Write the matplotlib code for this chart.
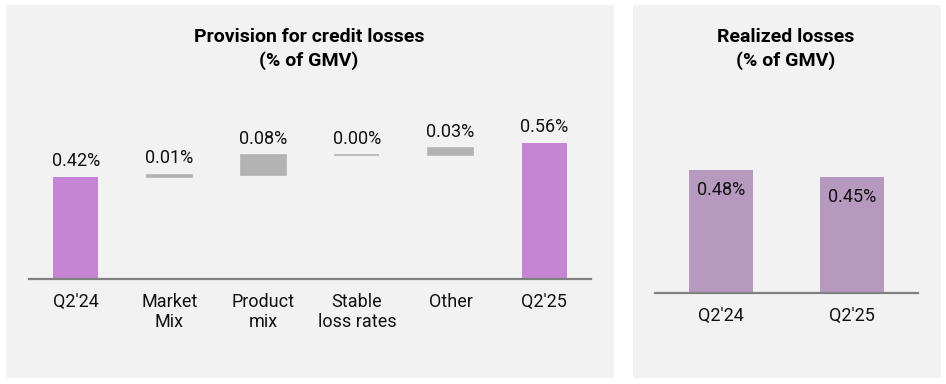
import matplotlib
matplotlib.use("Agg")
import matplotlib.pyplot as plt
from matplotlib.patches import Rectangle

# ---- data ----
wf_categories = ["Q2'24", "Market\nMix", "Product\nmix", "Stable\nloss rates", "Other", "Q2'25"]
wf_values = [0.42, 0.01, 0.08, 0.00, 0.03, 0.56]
wf_is_total = [True, False, False, False, False, True]

rl_categories = ["Q2'24", "Q2'25"]
rl_values = [0.48, 0.45]

title_left = ["Provision for credit losses", "(% of GMV)"]
title_right = ["Realized losses", "(% of GMV)"]

# ---- style ----
plt.rcParams['font.family'] = ['Roboto', 'DejaVu Sans']
W, H = 946, 384
fig = plt.figure(figsize=(W / 100, H / 100), dpi=100)
fig.patch.set_facecolor("white")

PANEL = "#f2f2f2"
PURPLE = "#c585d4"
GRAY = "#b3b3b3"
MAUVE = "#b798be"
AXIS = "#808080"
TXT = "#111111"

def px_rect(x0, y0, x1, y1):
    # top-left pixel coords -> figure fraction [left, bottom, width, height]
    return [x0 / W, 1 - y1 / H, (x1 - x0) / W, (y1 - y0) / H]

# panels
for (x0, y0, x1, y1) in [(6, 5, 614, 378), (633, 5, 941, 378)]:
    l, b, w, h = px_rect(x0, y0, x1, y1)
    fig.patches.append(Rectangle((l, b), w, h, transform=fig.transFigure,
                                 facecolor=PANEL, edgecolor="none", zorder=-5))

def style_axes(ax):
    ax.set_facecolor("none")
    ax.set_zorder(2)
    for s in ["top", "left", "right"]:
        ax.spines[s].set_visible(False)
    ax.spines["bottom"].set_color(AXIS)
    ax.spines["bottom"].set_linewidth(1.6)
    ax.set_yticks([])
    ax.tick_params(axis="x", length=0, labelsize=13, labelcolor=TXT)

# ---- left: waterfall ----
ymax = 0.7
axL = fig.add_axes(px_rect(29, 279 - ymax * 243, 591, 279))
style_axes(axL)
axL.set_xlim(-0.5, 5.5)
axL.set_ylim(0, ymax)
xs = list(range(len(wf_categories)))
running = 0.0
for x, v, tot in zip(xs, wf_values, wf_is_total):
    if tot:
        axL.bar(x, v, width=0.48, color=PURPLE, zorder=2)
        top = v
        running = v
    else:
        axL.bar(x, v, bottom=running, width=0.48, color=GRAY,
                edgecolor=GRAY, linewidth=1.2, zorder=2)
        running += v
        top = running
    axL.annotate(f"{v:.2f}%", (x, top), xytext=(0, 8), textcoords="offset points",
                 ha="center", va="baseline", fontsize=13, color=TXT)
axL.set_xticks(xs)
axL.set_xticklabels(wf_categories, linespacing=1.12)
axL.tick_params(axis="x", pad=10)

# ---- right: realized losses ----
scale_r = 257
axR = fig.add_axes(px_rect(655, 293 - ymax * scale_r, 918, 293))
style_axes(axR)
axR.set_xlim(-0.5, 1.5)
axR.set_ylim(0, ymax)
xr = list(range(len(rl_categories)))
axR.bar(xr, rl_values, width=0.487, color=MAUVE, zorder=2)
for x, v in zip(xr, rl_values):
    axR.annotate(f"{v:.2f}%", (x, v), xytext=(0, -18), textcoords="offset points",
                 ha="center", va="baseline", fontsize=13, color=TXT)
axR.set_xticks(xr)
axR.set_xticklabels(rl_categories)
axR.tick_params(axis="x", pad=10)

# ---- titles ----
def title(lines, cx):
    for line, yb in zip(lines, [42, 66]):
        fig.text(cx / W, 1 - yb / H, line, ha="center", va="baseline",
                 fontsize=14, fontweight="bold", color="#000000")

title(title_left, 309)
title(title_right, 786)

fig.savefig("out.png", dpi=100, facecolor="white")
